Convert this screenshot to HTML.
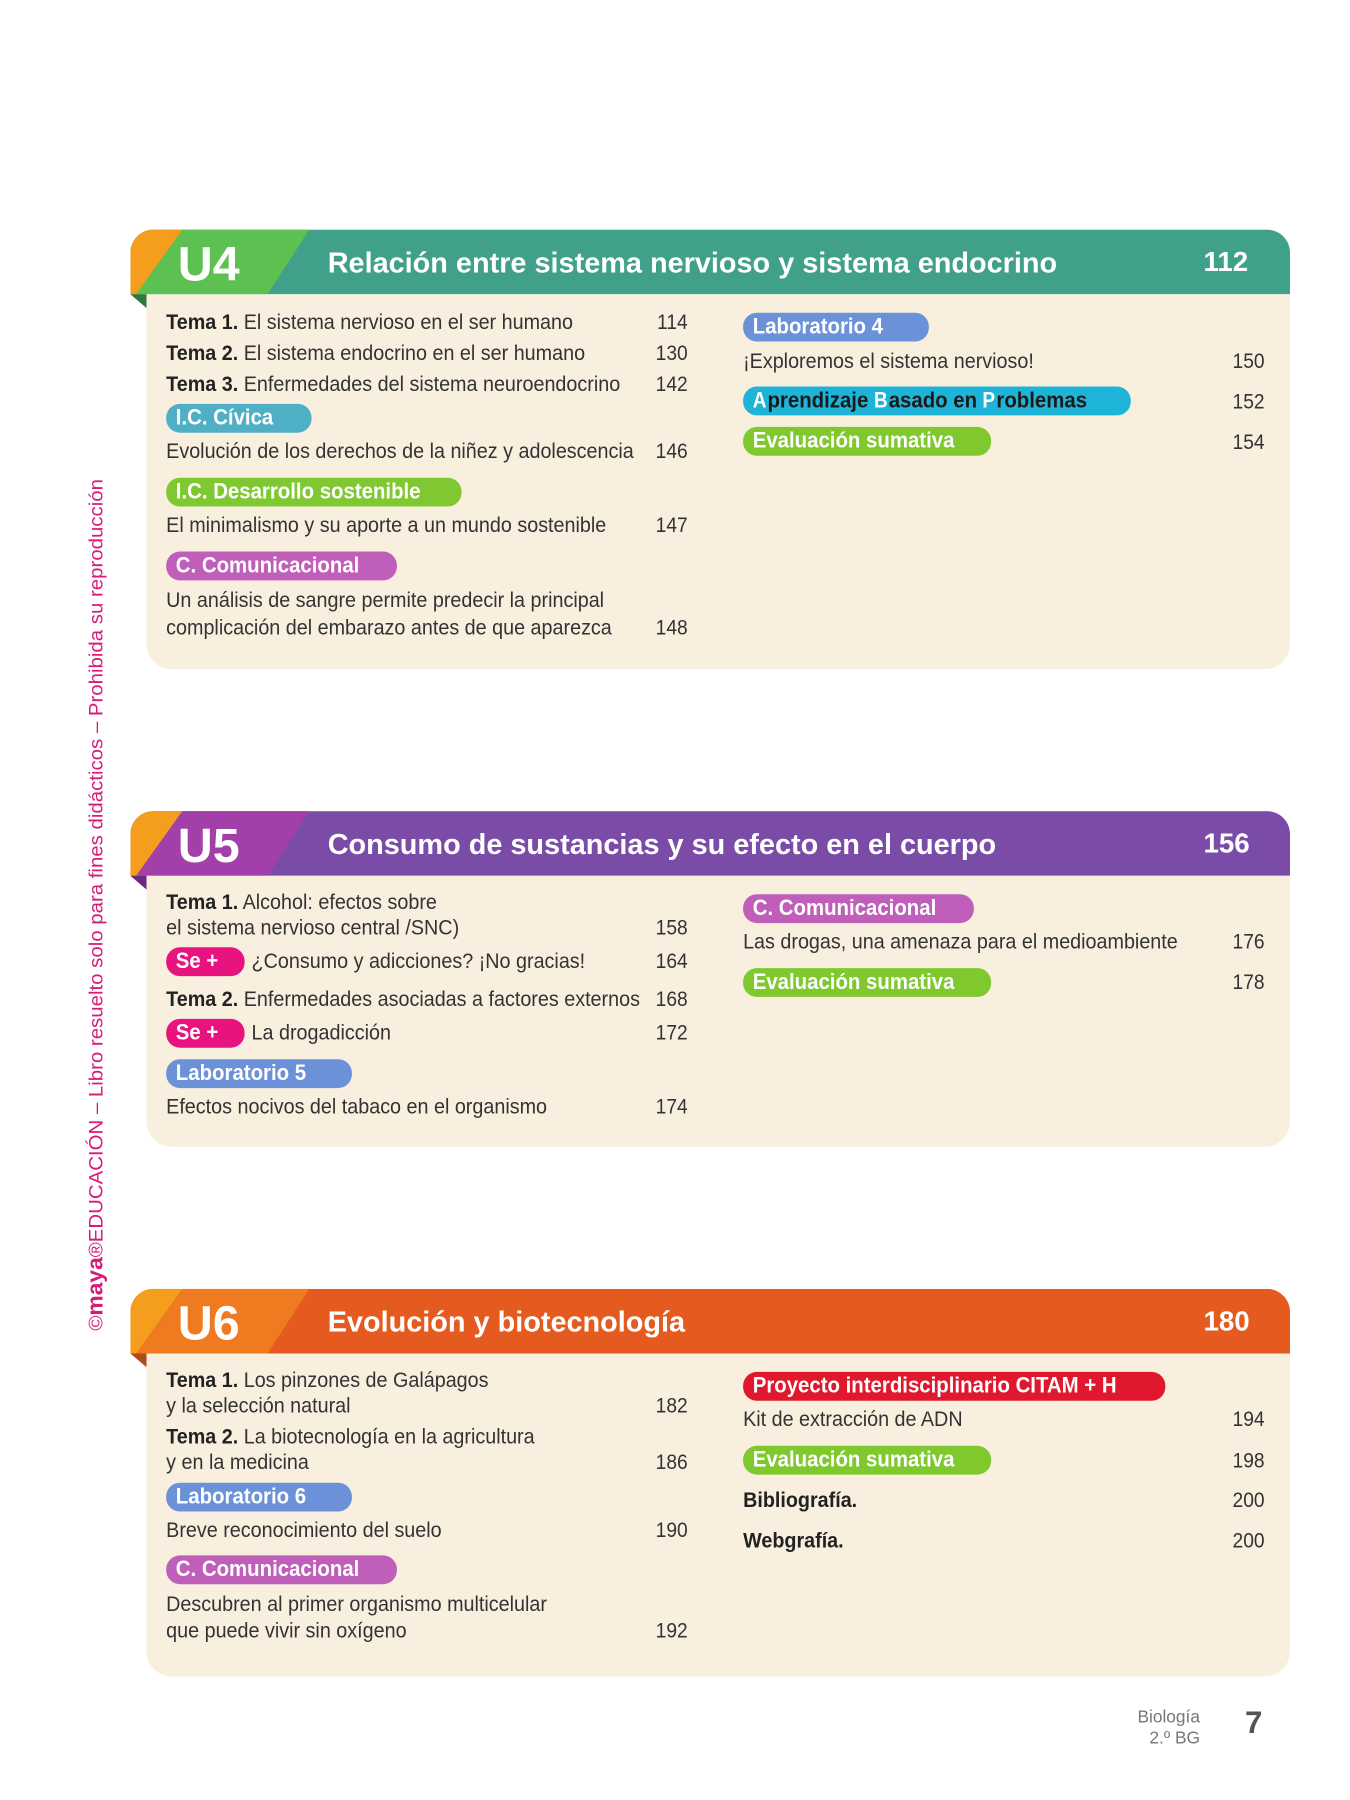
<!DOCTYPE html>
<html><head><meta charset="utf-8"><style>
html,body{margin:0;padding:0;background:#fff;}
body{width:1350px;height:1800px;overflow:hidden;position:relative;}
#w{position:absolute;left:0;top:0;width:1170px;height:1560px;transform:scale(1.153846);transform-origin:0 0;font-family:"Liberation Sans",sans-serif;}
.a{position:absolute;white-space:nowrap;}
.body{position:absolute;left:127px;width:991px;background:#f9efdf;border-radius:0 0 22px 22px;}
.t{position:absolute;white-space:nowrap;font-size:18.5px;line-height:22px;color:#333;transform:scaleX(0.925);transform-origin:0 50%;}
.t b{color:#222;}
.n{position:absolute;font-size:18.5px;line-height:22px;color:#333;text-align:right;width:60px;transform:scaleX(0.9);transform-origin:100% 50%;}
.p{position:absolute;height:25px;border-radius:12px;color:#fff;font-weight:bold;font-size:19px;line-height:25px;}
.p span{display:inline-block;padding-left:9px;transform:scaleX(0.93);transform-origin:0 50%;white-space:nowrap;}
.ht{position:absolute;color:#fff;font-weight:bold;white-space:nowrap;}
</style></head><body><div id="w">

<div class="a" style="left:-275px;top:774px;width:718px;height:20px;transform:rotate(-90deg);text-align:center;color:#d81b7a;font-size:17px;line-height:20px;"><span style="display:inline-block;transform:scaleX(1.04)">©<b style="font-size:19px">maya</b>®EDUCACIÓN – Libro resuelto solo para fines didácticos – Prohibida su reproducción</span></div>

<!-- U4 -->
<svg class="a" style="left:113px;top:199px" width="1005" height="70"><path d="M20,0 H985 A20,20 0 0 1 1005,20 V56 H0 V20 A20,20 0 0 1 20,0Z" fill="#40a08a"/><path d="M45,0 H155 L119,56 H5 Z" fill="#5dc152"/><path d="M20,0 H45 L5,56 H0 V20 A20,20 0 0 1 20,0Z" fill="#f59d1c"/><polygon points="0,56 14,56 14,68" fill="#2f7a3a"/></svg>
<div class="body" style="top:255px;height:325px"></div>
<div class="ht" style="left:154px;top:204px;font-size:42px;line-height:50px">U4</div>
<div class="ht" style="left:284px;top:213px;font-size:25px;line-height:30px">Relación entre sistema nervioso y sistema endocrino</div>
<div class="ht" style="left:1043px;top:213px;font-size:24px;line-height:30px">112</div>

<div class="t" style="left:144px;top:268px"><b>Tema 1.</b> El sistema nervioso en el ser humano</div><div class="n" style="left:536px;top:268px">114</div>
<div class="t" style="left:144px;top:295px"><b>Tema 2.</b> El sistema endocrino en el ser humano</div><div class="n" style="left:536px;top:295px">130</div>
<div class="t" style="left:144px;top:322px"><b>Tema 3.</b> Enfermedades del sistema neuroendocrino</div><div class="n" style="left:536px;top:322px">142</div>
<div class="p" style="left:144px;top:350px;width:126px;background:#4fafc4"><span>I.C. Cívica</span></div>
<div class="t" style="left:144px;top:380px">Evolución de los derechos de la niñez y adolescencia</div><div class="n" style="left:536px;top:380px">146</div>
<div class="p" style="left:144px;top:414px;width:256px;background:#80c832"><span>I.C. Desarrollo sostenible</span></div>
<div class="t" style="left:144px;top:444px">El minimalismo y su aporte a un mundo sostenible</div><div class="n" style="left:536px;top:444px">147</div>
<div class="p" style="left:144px;top:478px;width:200px;background:#bf5fba"><span>C. Comunicacional</span></div>
<div class="t" style="left:144px;top:509px">Un análisis de sangre permite predecir la principal</div>
<div class="t" style="left:144px;top:533px">complicación del embarazo antes de que aparezca</div><div class="n" style="left:536px;top:533px">148</div>

<div class="p" style="left:644px;top:271px;width:161px;background:#6b92d8"><span>Laboratorio 4</span></div>
<div class="t" style="left:644px;top:302px">¡Exploremos el sistema nervioso!</div><div class="n" style="left:1036px;top:302px">150</div>
<div class="p" style="left:644px;top:335px;width:336px;background:#1eb4d8;color:#1a1a1a"><span><span style="padding:0;color:#fff">A</span>prendizaje <span style="padding:0;color:#fff">B</span>asado en <span style="padding:0;color:#fff">P</span>roblemas</span></div><div class="n" style="left:1036px;top:337px">152</div>
<div class="p" style="left:644px;top:370px;width:215px;background:#7fc92f"><span>Evaluación sumativa</span></div><div class="n" style="left:1036px;top:372px">154</div>

<!-- U5 -->
<svg class="a" style="left:113px;top:703px" width="1005" height="70"><path d="M20,0 H985 A20,20 0 0 1 1005,20 V56 H0 V20 A20,20 0 0 1 20,0Z" fill="#7a4ca8"/><path d="M45,0 H155 L119,56 H5 Z" fill="#a33fa8"/><path d="M20,0 H45 L5,56 H0 V20 A20,20 0 0 1 20,0Z" fill="#f59d1c"/><polygon points="0,56 14,56 14,68" fill="#6a2a80"/></svg>
<div class="body" style="top:759px;height:235px"></div>
<div class="ht" style="left:154px;top:708px;font-size:42px;line-height:50px">U5</div>
<div class="ht" style="left:284px;top:717px;font-size:25px;line-height:30px">Consumo de sustancias y su efecto en el cuerpo</div>
<div class="ht" style="left:1043px;top:717px;font-size:24px;line-height:30px">156</div>

<div class="t" style="left:144px;top:771px"><b>Tema 1.</b> Alcohol: efectos sobre</div>
<div class="t" style="left:144px;top:793px">el sistema nervioso central /SNC)</div><div class="n" style="left:536px;top:793px">158</div>
<div class="p" style="left:144px;top:821px;width:68px;background:#e8137e"><span>Se +</span></div>
<div class="t" style="left:218px;top:822px">¿Consumo y adicciones? ¡No gracias!</div><div class="n" style="left:536px;top:822px">164</div>
<div class="t" style="left:144px;top:855px"><b>Tema 2.</b> Enfermedades asociadas a factores externos</div><div class="n" style="left:536px;top:855px">168</div>
<div class="p" style="left:144px;top:883px;width:68px;background:#e8137e"><span>Se +</span></div>
<div class="t" style="left:218px;top:884px">La drogadicción</div><div class="n" style="left:536px;top:884px">172</div>
<div class="p" style="left:144px;top:918px;width:161px;background:#6b92d8"><span>Laboratorio 5</span></div>
<div class="t" style="left:144px;top:948px">Efectos nocivos del tabaco en el organismo</div><div class="n" style="left:536px;top:948px">174</div>

<div class="p" style="left:644px;top:775px;width:200px;background:#bf5fba"><span>C. Comunicacional</span></div>
<div class="t" style="left:644px;top:805px">Las drogas, una amenaza para el medioambiente</div><div class="n" style="left:1036px;top:805px">176</div>
<div class="p" style="left:644px;top:839px;width:215px;background:#7fc92f"><span>Evaluación sumativa</span></div><div class="n" style="left:1036px;top:840px">178</div>

<!-- U6 -->
<svg class="a" style="left:113px;top:1117px" width="1005" height="70"><path d="M20,0 H985 A20,20 0 0 1 1005,20 V56 H0 V20 A20,20 0 0 1 20,0Z" fill="#e55a1f"/><path d="M45,0 H155 L119,56 H5 Z" fill="#ef7a1f"/><path d="M20,0 H45 L5,56 H0 V20 A20,20 0 0 1 20,0Z" fill="#f59d1c"/><polygon points="0,56 14,56 14,68" fill="#b04a18"/></svg>
<div class="body" style="top:1173px;height:280px"></div>
<div class="ht" style="left:154px;top:1122px;font-size:42px;line-height:50px">U6</div>
<div class="ht" style="left:284px;top:1131px;font-size:25px;line-height:30px">Evolución y biotecnología</div>
<div class="ht" style="left:1043px;top:1131px;font-size:24px;line-height:30px">180</div>

<div class="t" style="left:144px;top:1185px"><b>Tema 1.</b> Los pinzones de Galápagos</div>
<div class="t" style="left:144px;top:1207px">y la selección natural</div><div class="n" style="left:536px;top:1207px">182</div>
<div class="t" style="left:144px;top:1234px"><b>Tema 2.</b> La biotecnología en la agricultura</div>
<div class="t" style="left:144px;top:1256px">y en la medicina</div><div class="n" style="left:536px;top:1256px">186</div>
<div class="p" style="left:144px;top:1285px;width:161px;background:#6b92d8"><span>Laboratorio 6</span></div>
<div class="t" style="left:144px;top:1315px">Breve reconocimiento del suelo</div><div class="n" style="left:536px;top:1315px">190</div>
<div class="p" style="left:144px;top:1348px;width:200px;background:#bf5fba"><span>C. Comunicacional</span></div>
<div class="t" style="left:144px;top:1379px">Descubren al primer organismo multicelular</div>
<div class="t" style="left:144px;top:1402px">que puede vivir sin oxígeno</div><div class="n" style="left:536px;top:1402px">192</div>

<div class="p" style="left:644px;top:1189px;width:366px;background:#e0182d"><span>Proyecto interdisciplinario CITAM + H</span></div>
<div class="t" style="left:644px;top:1219px">Kit de extracción de ADN</div><div class="n" style="left:1036px;top:1219px">194</div>
<div class="p" style="left:644px;top:1253px;width:215px;background:#7fc92f"><span>Evaluación sumativa</span></div><div class="n" style="left:1036px;top:1255px">198</div>
<div class="t" style="left:644px;top:1289px"><b>Bibliografía.</b></div><div class="n" style="left:1036px;top:1289px">200</div>
<div class="t" style="left:644px;top:1324px"><b>Webgrafía.</b></div><div class="n" style="left:1036px;top:1324px">200</div>

<!-- footer -->
<div class="a" style="left:960px;top:1480px;width:80px;text-align:right;color:#777;font-size:15px;line-height:18px">Biología<br>2.º BG</div>
<div class="a" style="left:1079px;top:1477px;color:#555;font-weight:bold;font-size:27px;line-height:32px">7</div>
</div></body></html>
